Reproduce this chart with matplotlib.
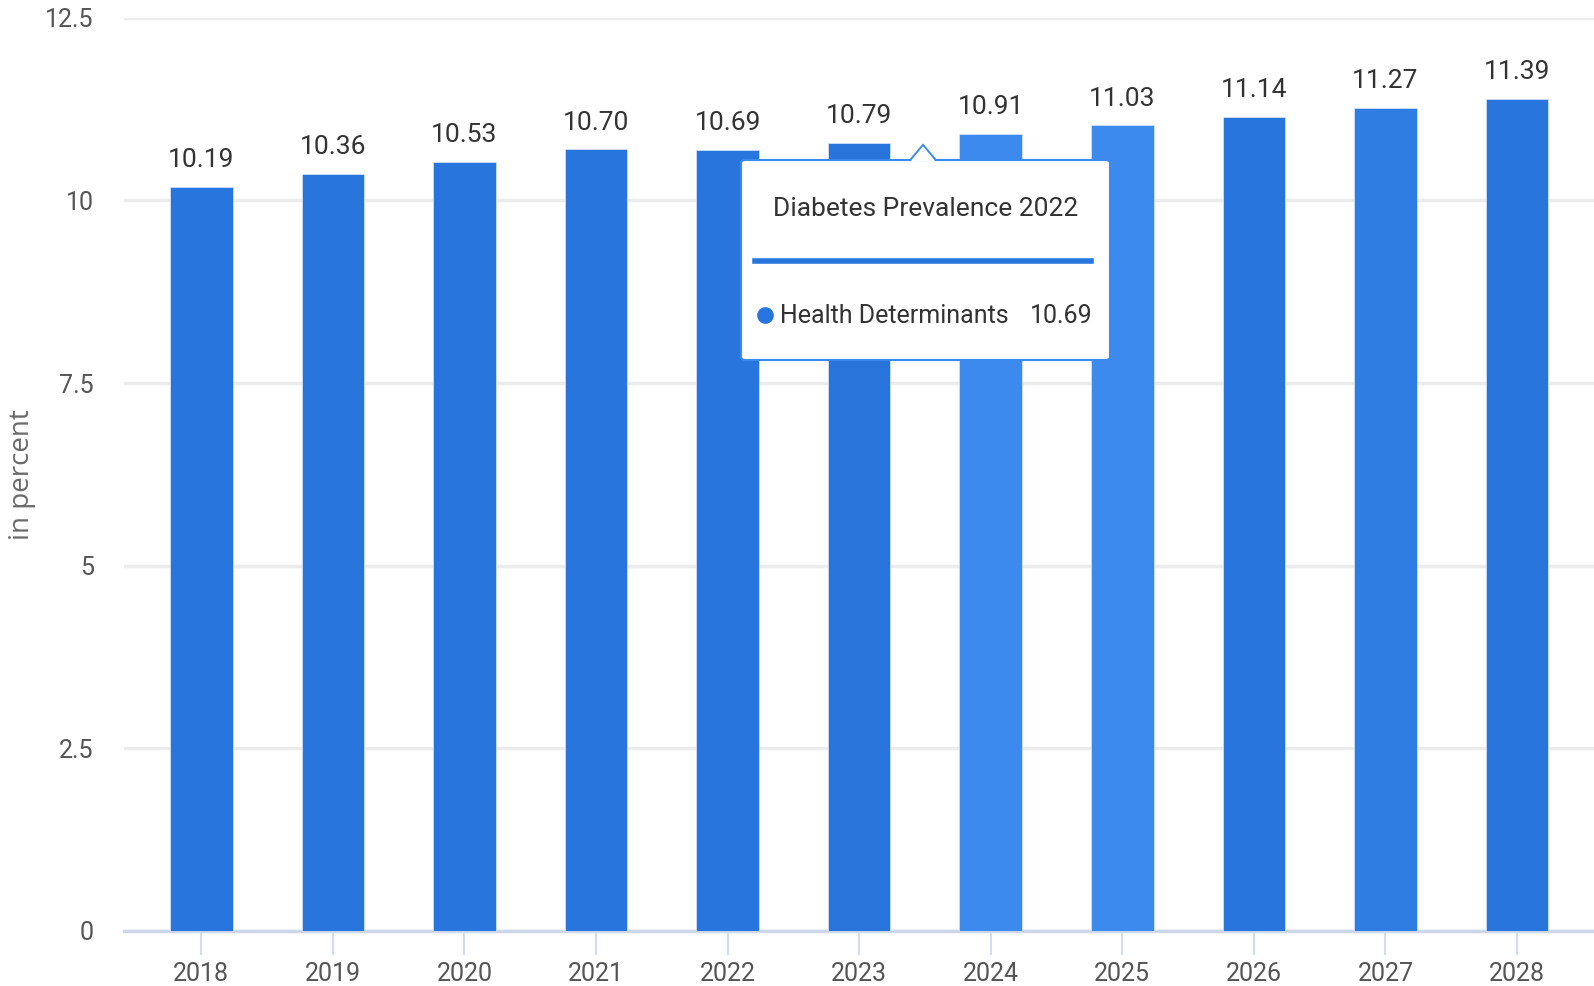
import matplotlib.pyplot as plt
from matplotlib.patches import FancyBboxPatch, Polygon
import numpy as np

plt.rcParams['font.family'] = ['Roboto', 'DejaVu Sans']

years = ['2018', '2019', '2020', '2021', '2022', '2023', '2024', '2025', '2026', '2027', '2028']
values = [10.19, 10.36, 10.53, 10.70, 10.69, 10.79, 10.91, 11.03, 11.14, 11.27, 11.39]
bar_colors = ['#2876dd', '#2876dd', '#2876dd', '#2876dd', '#2876dd', '#2874da',
              '#3d8aef', '#3d8aef', '#2876dd', '#2d7de3', '#2876dd']
tip_title = 'Diabetes Prevalence 2022'
tip_series = 'Health Determinants'
tip_value = '10.69'
yticks = [0, 2.5, 5, 7.5, 10, 12.5]
ytick_labels = ['0', '2.5', '5', '7.5', '10', '12.5']

fig = plt.figure(figsize=(15.94, 9.86), dpi=100)
ax = fig.add_axes([0.078, 0.0558, 0.922, 0.9262])

x = np.arange(len(years))
ax.bar(x, values, width=0.475, color=bar_colors, edgecolor='#cfe0fa', linewidth=0.6, zorder=3)
for xi, v in zip(x, values):
    ax.text(xi, v + 0.2, '%.2f' % v, ha='center', va='bottom', fontsize=19, color='#333333', zorder=4)

ax.set_xlim(-0.585, 10.585)
ax.set_ylim(0, 12.5)
ax.set_yticks(yticks)
ax.set_yticklabels(ytick_labels)
ax.set_xticks(x)
ax.set_xticklabels(years)
ax.grid(axis='y', color='#ececec', lw=2.5, zorder=0)
for s in ['top', 'right', 'left']:
    ax.spines[s].set_visible(False)
ax.spines['bottom'].set_color('#ccd7ea')
ax.spines['bottom'].set_linewidth(2.5)
ax.tick_params(axis='y', length=0, pad=22, labelsize=18, labelcolor='#555555')
ax.tick_params(axis='x', length=17, width=1.5, color='#d3ddef', pad=5, labelsize=18, labelcolor='#555555')
ax.set_ylabel('in percent', fontsize=20, color='#6a6a6a', family=['Open Sans', 'DejaVu Sans'])
ax.yaxis.set_label_coords(-0.06, 0.5)

# tooltip for 2022
tx0, tx1 = 741 / 1594, 1110 / 1594
ty0, ty1 = 1 - 360 / 986, 1 - 160 / 986
box = FancyBboxPatch((tx0, ty0), tx1 - tx0, ty1 - ty0, boxstyle='round,pad=0,rounding_size=0.003',
                     transform=fig.transFigure, facecolor='white', edgecolor='#3d8aef', lw=1.5, zorder=10)
fig.patches.append(box)
ax_x = 923 / 1594
arrow = Polygon([(ax_x - 0.008, ty1), (ax_x, 1 - 145 / 986), (ax_x + 0.008, ty1)], closed=False,
                transform=fig.transFigure, facecolor='white', edgecolor='#3d8aef', lw=1.5, zorder=11)
fig.patches.append(arrow)
cover = Polygon([(ax_x - 0.0075, ty1 - 0.001), (ax_x, 1 - 146.5 / 986), (ax_x + 0.0075, ty1 - 0.001)],
                closed=True, transform=fig.transFigure, facecolor='white', edgecolor='none', zorder=12)
fig.patches.append(cover)
fig.text((tx0 + tx1) / 2, 1 - 209 / 986, tip_title, ha='center', va='center', fontsize=19, color='#333333', zorder=13)
fig.add_artist(plt.Line2D([755 / 1594, 1091 / 1594], [1 - 261 / 986] * 2, transform=fig.transFigure,
                          color='#2876dd', lw=4, zorder=13))
fig.add_artist(plt.Line2D([765 / 1594], [1 - 315 / 986], transform=fig.transFigure, marker='o',
                          markersize=11, color='#2876dd', zorder=13))
fig.text(780 / 1594, 1 - 316 / 986, tip_series, ha='left', va='center', fontsize=18, color='#333333', zorder=13)
fig.text(1093 / 1594, 1 - 316 / 986, tip_value, ha='right', va='center', fontsize=18, color='#333333', zorder=13)

plt.savefig('out.png', dpi=100)
